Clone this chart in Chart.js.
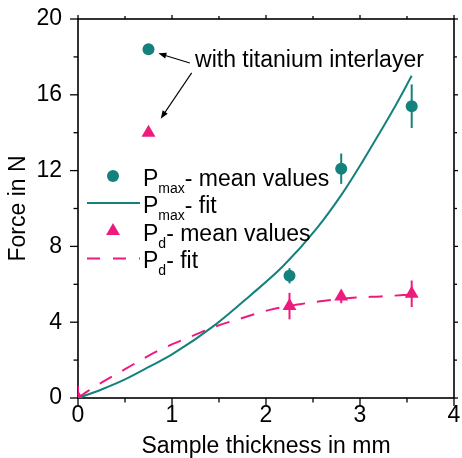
<!DOCTYPE html>
<html><head><meta charset="utf-8">
<script src="https://cdn.jsdelivr.net/npm/chart.js@4/dist/chart.umd.min.js"></script>
<style>html,body{margin:0;padding:0;background:#fff}canvas{display:block}</style>
</head><body>
<canvas id="c" width="462" height="458"></canvas>
<script>
// ---- data ----
const pmaxX = [0.75, 2.25, 2.8, 3.55];
const pmaxMean = [18.4, 6.45, 12.1, 15.4];
const pmaxErr = [0, 0.4, 0.8, 1.15];

const pdX = [0, 0.75, 2.25, 2.8, 3.55];
const pdMean = [0, 14.0, 4.85, 5.35, 5.5];
const pdErr = [0.65, 0, 0.7, 0.35, 0.7];

const pmaxFitX = [0, 0.25, 0.5, 0.77, 1.0, 1.47, 1.83, 2.18, 2.54, 2.82, 3.03, 3.21, 3.38, 3.55];
const pmaxFitY = [0, 0.45, 0.98, 1.68, 2.3, 3.9, 5.4, 6.95, 8.95, 10.85, 12.5, 14.0, 15.45, 17.0];

const pdFitX = [0, 0.1, 0.5, 0.87, 1.16, 1.46, 1.74, 2.04, 2.36, 2.6, 2.96, 3.22, 3.59];
const pdFitY = [0, 0.35, 1.52, 2.54, 3.16, 3.77, 4.21, 4.65, 4.95, 5.12, 5.3, 5.36, 5.47];

const xTickValues = [0, 1, 2, 3, 4];
const yTickValues = [0, 4, 8, 12, 16, 20];
const xMinorValues = [0.5, 1.5, 2.5, 3.5];
const yMinorValues = [2, 6, 10, 14, 18];

const TEAL = '#15817d';
const PINK = '#ec1b7d';
const FONT = "'Liberation Sans', Arial, Helvetica, sans-serif";

const pts = (xs, ys) => xs.map((v, i) => ({x: v, y: ys[i]}));

const deco = {
  id: 'deco',
  beforeDatasetsDraw(chart) {
    const {ctx, chartArea: a, scales: {x, y}} = chart;
    ctx.save();
    ctx.strokeStyle = '#000';
    ctx.lineWidth = 1.6;
    ctx.strokeRect(a.left, a.top, a.right - a.left, a.bottom - a.top);
    const tick = (x1, y1, x2, y2) => { ctx.beginPath(); ctx.moveTo(x1, y1); ctx.lineTo(x2, y2); ctx.stroke(); };
    ctx.lineWidth = 1.3;
    xTickValues.forEach(v => { const p = x.getPixelForValue(v); tick(p, a.bottom, p, a.bottom + 8); tick(p, a.top, p, a.top - 4); });
    xMinorValues.forEach(v => { const p = x.getPixelForValue(v); tick(p, a.bottom, p, a.bottom + 4.5); tick(p, a.top, p, a.top - 3); });
    yTickValues.forEach(v => { const p = y.getPixelForValue(v); tick(a.left, p, a.left - 8, p); tick(a.right, p, a.right + 4, p); });
    yMinorValues.forEach(v => { const p = y.getPixelForValue(v); tick(a.left, p, a.left - 4.5, p); tick(a.right, p, a.right + 3, p); });
    ctx.beginPath(); ctx.rect(a.left, a.top, a.right - a.left, a.bottom - a.top); ctx.clip();
    ctx.lineWidth = 2;
    const bars = (xs, ys, es, col) => {
      ctx.strokeStyle = col;
      xs.forEach((v, i) => {
        if (!es[i]) return;
        const px = x.getPixelForValue(v);
        tick(px, y.getPixelForValue(ys[i] - es[i]), px, y.getPixelForValue(ys[i] + es[i]));
      });
    };
    bars(pmaxX, pmaxMean, pmaxErr, TEAL);
    bars(pdX, pdMean, pdErr, PINK);
    ctx.restore();
  },
  afterDatasetsDraw(chart) {
    const {ctx, scales: {x, y}} = chart;
    ctx.save();
    ctx.fillStyle = '#000';
    ctx.strokeStyle = '#000';
    ctx.font = '23px ' + FONT;
    ctx.textBaseline = 'alphabetic';
    ctx.textAlign = 'left';
    ctx.fillText('with titanium interlayer', x.getPixelForValue(1.245), y.getPixelForValue(17.45));
    const arrow = (x1, y1, x2, y2) => {
      const X1 = x.getPixelForValue(x1), Y1 = y.getPixelForValue(y1);
      const X2 = x.getPixelForValue(x2), Y2 = y.getPixelForValue(y2);
      const ang = Math.atan2(Y2 - Y1, X2 - X1);
      const L = 8, W = 3;
      ctx.lineWidth = 1.1;
      ctx.beginPath(); ctx.moveTo(X1, Y1);
      ctx.lineTo(X2 - Math.cos(ang) * L * 0.8, Y2 - Math.sin(ang) * L * 0.8); ctx.stroke();
      ctx.beginPath();
      ctx.moveTo(X2, Y2);
      ctx.lineTo(X2 - Math.cos(ang) * L - Math.sin(ang) * W, Y2 - Math.sin(ang) * L + Math.cos(ang) * W);
      ctx.lineTo(X2 - Math.cos(ang) * L + Math.sin(ang) * W, Y2 - Math.sin(ang) * L - Math.cos(ang) * W);
      ctx.closePath(); ctx.fill();
    };
    arrow(1.19, 17.68, 0.855, 18.19);
    arrow(1.209, 17.16, 0.88, 14.74);
    const rows = [
      {y: 176, sub: 'max', txt: '- mean values', kind: 'circle'},
      {y: 203, sub: 'max', txt: '- fit', kind: 'line'},
      {y: 231, sub: 'd', txt: '- mean values', kind: 'tri'},
      {y: 258.5, sub: 'd', txt: '- fit', kind: 'dash'}
    ];
    rows.forEach(r => {
      if (r.kind === 'circle') {
        ctx.fillStyle = TEAL; ctx.beginPath(); ctx.arc(113, r.y, 6, 0, Math.PI * 2); ctx.fill();
      } else if (r.kind === 'tri') {
        const R = 8;
        ctx.fillStyle = PINK; ctx.beginPath();
        ctx.moveTo(113, r.y - R);
        ctx.lineTo(113 + R * 0.866, r.y + R / 2);
        ctx.lineTo(113 - R * 0.866, r.y + R / 2);
        ctx.closePath(); ctx.fill();
      } else {
        ctx.strokeStyle = r.kind === 'line' ? TEAL : PINK;
        ctx.lineWidth = 2;
        ctx.setLineDash(r.kind === 'dash' ? [13, 13] : []);
        ctx.beginPath(); ctx.moveTo(87, r.y); ctx.lineTo(140, r.y); ctx.stroke();
        ctx.setLineDash([]);
      }
      ctx.fillStyle = '#000';
      const base = r.y + 9.5;
      ctx.font = '23px ' + FONT;
      ctx.fillText('P', 143, base);
      let px = 143 + ctx.measureText('P').width;
      ctx.font = '14px ' + FONT;
      ctx.fillText(r.sub, px, base + 7);
      px += ctx.measureText(r.sub).width;
      ctx.font = '23px ' + FONT;
      ctx.fillText(r.txt, px, base);
    });
    ctx.restore();
  }
};

Chart.defaults.font.family = FONT;
Chart.defaults.font.size = 23;
Chart.defaults.color = '#000';

new Chart(document.getElementById('c'), {
  type: 'scatter',
  data: {
    datasets: [
      {label: 'Pmax mean', data: pts(pmaxX, pmaxMean), backgroundColor: TEAL, borderColor: TEAL,
       pointStyle: 'circle', pointRadius: 6, pointBorderWidth: 0, showLine: false, order: 1},
      {label: 'Pd mean', data: pts(pdX, pdMean), backgroundColor: PINK, borderColor: PINK,
       pointStyle: 'triangle', pointRadius: 8, pointBorderWidth: 0, showLine: false, order: 1},
      {label: 'Pmax fit', data: pts(pmaxFitX, pmaxFitY), borderColor: TEAL, borderWidth: 2,
       pointRadius: 0, showLine: true, cubicInterpolationMode: 'monotone', order: 2},
      {label: 'Pd fit', data: pts(pdFitX, pdFitY), borderColor: PINK, borderWidth: 2, borderDash: [14, 12],
       pointRadius: 0, showLine: true, cubicInterpolationMode: 'monotone', order: 2}
    ]
  },
  options: {
    responsive: false,
    animation: false,
    devicePixelRatio: 1,
    layout: {padding: {top: 19, right: 7, left: 0, bottom: 0}},
    plugins: {legend: {display: false}, tooltip: {enabled: false}},
    scales: {
      x: {
        type: 'linear', min: 0, max: 4,
        afterBuildTicks: s => { s.ticks = xTickValues.map(v => ({value: v})); },
        ticks: {padding: 0, font: {size: 23}, color: '#000'},
        grid: {display: false, drawTicks: true, tickLength: 4},
        border: {display: false},
        title: {display: true, text: 'Sample thickness in mm', font: {size: 23, lineHeight: 1}, padding: {top: 0, bottom: 0}, color: '#000'},
        afterFit: s => { s.height = 60; }
      },
      y: {
        type: 'linear', min: 0, max: 20,
        afterBuildTicks: s => { s.ticks = yTickValues.map(v => ({value: v})); },
        ticks: {padding: 0, font: {size: 23}, color: '#000'},
        grid: {display: false, drawTicks: true, tickLength: 16},
        border: {display: false},
        title: {display: true, text: 'Force in N', font: {size: 23, lineHeight: 1}, padding: {top: 7, bottom: 0}, color: '#000'},
        afterFit: s => { s.width = 78; }
      }
    }
  },
  plugins: [deco]
});
</script>
</body></html>
